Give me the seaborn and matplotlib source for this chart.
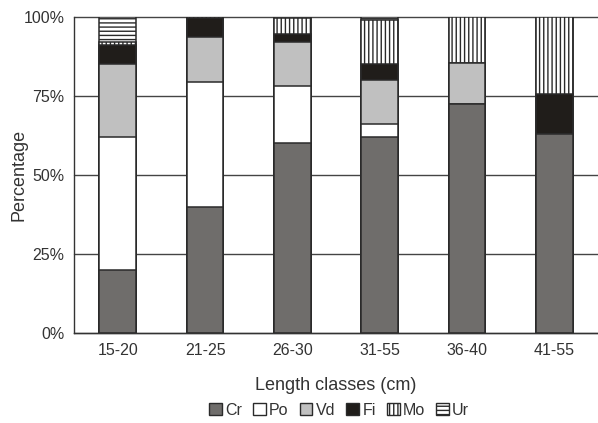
import pandas as pd
import seaborn as sns
import matplotlib.pyplot as plt
from matplotlib.patches import Patch

# DATA
classes = ['15-20', '21-25', '26-30', '31-55', '36-40', '41-55']
groups = ['Cr', 'Po', 'Vd', 'Fi', 'Mo', 'Ur']
cr = [20, 40, 60, 62, 72.5, 63]
po = [42, 39.5, 18, 4, 0, 0]
vd = [23, 14, 14, 14, 13, 0]
fi = [6, 6, 2.5, 5, 0, 12.5]
mo = [1, 0.5, 5, 14, 14.5, 24.5]
ur = [8, 0, 0.5, 1, 0, 0]
yticks = [0, 25, 50, 75, 100]
ytick_labels = ['0%', '25%', '50%', '75%', '100%']

# STYLES
fills = {'Cr': '#6f6d6b', 'Po': 'white', 'Vd': '#c0c0c0', 'Fi': '#201d1a', 'Mo': 'white', 'Ur': 'white'}
hatches = {'Cr': None, 'Po': None, 'Vd': None, 'Fi': None, 'Mo': '||||', 'Ur': '----'}
edge = '#2a2a2a'
txt = '#333333'

# LONG FORM + CUMULATIVE
df = pd.DataFrame({'Cr': cr, 'Po': po, 'Vd': vd, 'Fi': fi, 'Mo': mo, 'Ur': ur}, index=classes)
cum = df.cumsum(axis=1)
long = cum.reset_index().melt(id_vars='index', var_name='group', value_name='cum')
long = long.rename(columns={'index': 'cls'})

sns.set_style('white')
plt.rcParams['font.family'] = ['Liberation Sans', 'DejaVu Sans']
plt.rcParams['hatch.linewidth'] = 1.0

fig = plt.figure(figsize=(5.98, 4.23), dpi=100)
ax = fig.add_axes([0.124, 0.213, 0.876, 0.747])

# STACK BY OVERLAYING CUMULATIVE BARS, TALLEST FIRST
for g in reversed(groups):
    sub = long[long['group'] == g]
    sns.barplot(data=sub, x='cls', y='cum', order=classes, color=fills[g], saturation=1,
                errorbar=None, width=0.42, edgecolor=edge, linewidth=1.1,
                hatch=hatches[g], ax=ax)

ax.set_xlim(-0.5, 5.5)
ax.set_ylim(0, 100)
ax.set_yticks(yticks)
ax.set_yticklabels(ytick_labels)
ax.yaxis.grid(True, color='#444444', linewidth=1.0)
ax.set_axisbelow(True)
for gl in ax.yaxis.get_gridlines():
    gl.set_clip_on(False)

ax.set_xticks(range(len(classes)))
ax.set_xticklabels(classes)
ax.set_xticks([i + 0.5 for i in range(len(classes) - 1)], minor=True)
ax.tick_params(axis='x', which='major', length=0, pad=7, labelsize=11.5, labelcolor=txt)
ax.tick_params(axis='x', which='minor', length=6, width=1, color='#333', direction='out')
ax.tick_params(axis='y', length=5, width=1, color='#333', labelsize=11.5, labelcolor=txt, pad=2)

sns.despine(ax=ax, top=True, right=True)
for s in ['left', 'bottom']:
    ax.spines[s].set_color('#333333')
    ax.spines[s].set_linewidth(1.0)

ax.set_xlabel('Length classes (cm)', fontsize=13, color=txt, labelpad=14)
ax.set_ylabel('Percentage', fontsize=13, color=txt, labelpad=-3)

handles = [Patch(facecolor=fills[g], edgecolor=edge, hatch=hatches[g], linewidth=1.0) for g in groups]
fig.legend(handles, groups, loc='center', bbox_to_anchor=(0.567, 0.03), ncol=6, frameon=False,
           fontsize=11.5, handlelength=0.8, handleheight=0.8, handletextpad=0.2,
           columnspacing=0.7, labelcolor=txt)

plt.savefig('out.png', dpi=100)
plt.close()
